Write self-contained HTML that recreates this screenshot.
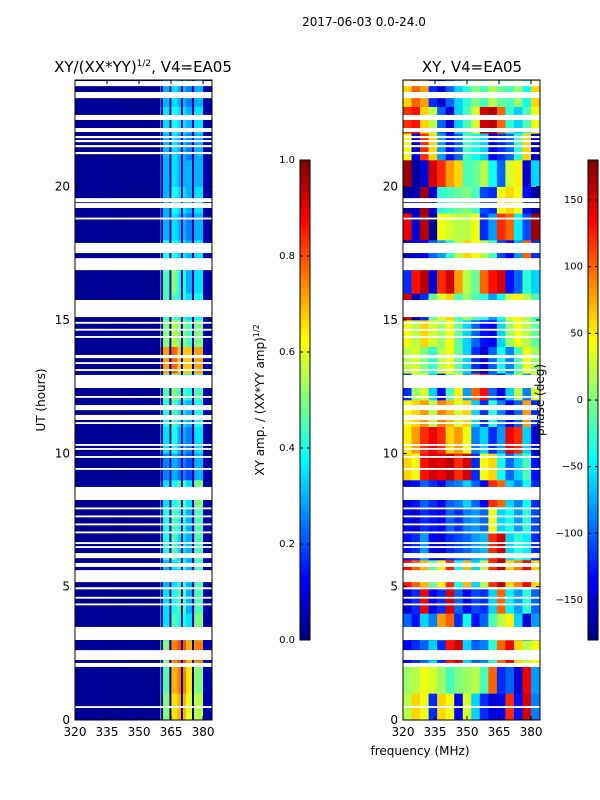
<!DOCTYPE html>
<html><head><meta charset="utf-8"><style>
html,body{margin:0;padding:0;background:#fff;width:600px;height:800px;overflow:hidden}
svg{display:block;font-family:"DejaVu Sans","Liberation Sans",sans-serif}
</style></head><body>
<svg id="fig" width="600" height="800" xmlns="http://www.w3.org/2000/svg">
<text x="364" y="26" font-size="12" text-anchor="middle">2017-06-03 0.0-24.0</text>
<text x="143" y="72" font-size="15" text-anchor="middle">XY/(XX*YY)<tspan font-size="9" dy="-6">1/2</tspan><tspan dy="6">, V4=EA05</tspan></text>
<text x="472" y="72" font-size="15" text-anchor="middle">XY, V4=EA05</text>
<g id="left"></g>
<g id="right"></g>
<g id="cb1"></g>
<g id="cb2"></g>
<text transform="translate(45,400) rotate(-90)" font-size="12" text-anchor="middle">UT (hours)</text>
<text x="420" y="755" font-size="12" text-anchor="middle">frequency (MHz)</text>
<text transform="translate(264,400) rotate(-90)" font-size="12" text-anchor="middle">XY amp. / (XX*YY amp)<tspan font-size="8" dy="-5">1/2</tspan></text>
<text transform="translate(544,400) rotate(-90)" font-size="12" text-anchor="middle">phase (deg)</text>
</svg>
<script>
const freqTicks=[320,335,350,365,380];
const hourTicks=[0,5,10,15,20];
const ampTicks=[0.0,0.2,0.4,0.6,0.8,1.0];
const phaseTicks=[-150,-100,-50,0,50,100,150];
const ampLow=0.02;
const ampBand=[
[0.5,0.65,0.7,0.6,0.55,0.05],[0.45,0.7,0.75,0.65,0.5,0.05],[0.5,0.75,0.8,0.7,0.75,0.05],
[0.35,0.45,0.4,0.35,0.5,0.04],[0.35,0.4,0.45,0.3,0.45,0.04],[0.3,0.35,0.4,0.3,0.45,0.04],
[0.4,0.45,0.35,0.3,0.45,0.04],[0.4,0.45,0.4,0.3,0.45,0.04],[0.35,0.4,0.45,0.35,0.5,0.04],
[0.25,0.3,0.25,0.2,0.3,0.04],[0.35,0.4,0.3,0.25,0.35,0.04],[0.4,0.45,0.35,0.3,0.4,0.04],
[0.45,0.5,0.45,0.4,0.45,0.04],[0.72,0.78,0.68,0.68,0.72,0.05],[0.5,0.55,0.5,0.45,0.5,0.04],
[0.45,0.45,0.4,0.35,0.4,0.04],[0.45,0.5,0.4,0.3,0.35,0.04],[0.4,0.4,0.35,0.3,0.35,0.04],
[0.3,0.35,0.3,0.25,0.3,0.04],[0.3,0.4,0.35,0.3,0.35,0.04],[0.3,0.35,0.3,0.3,0.3,0.04],
[0.3,0.35,0.3,0.25,0.3,0.04],[0.35,0.4,0.35,0.3,0.35,0.04],[0.3,0.35,0.3,0.25,0.3,0.04]];
const phaseRows=[
[20,60,40,-120,60,40,-140,30,-60,-120,-150,-140,120,-130,150,-90],
[10,20,40,30,10,-20,0,10,20,-20,100,-120,-100,-150,140,-80],
[-140,-120,-100,-60,-120,130,150,-60,-100,-90,-30,100,140,60,20,40],
[-100,-130,-60,-90,80,100,-120,-40,-130,-100,-20,20,50,-60,-150,-80],
[-150,-120,140,-140,-120,150,-100,-140,-110,-120,-60,100,-50,-80,-30,-100],
[130,100,70,-10,50,120,-40,70,-60,20,120,160,60,90,140,60],
[-130,-120,-80,-140,-150,-120,-110,-100,-80,-70,120,150,-60,-30,-50,-120],
[-140,-150,-120,-130,-140,-100,-120,-90,-80,-100,40,-60,-40,-80,-30,-110],
[-150,-130,-100,-120,-140,-100,-90,-60,-100,-140,120,100,-60,-90,-40,-120],
[60,40,130,150,140,160,120,150,-120,40,60,-40,-100,-60,-20,-130],
[50,80,120,140,120,60,80,40,-90,-60,-120,-80,140,120,-60,-150],
[40,60,80,20,90,70,30,60,-60,-120,-30,-90,-140,-100,80,-120],
[-120,10,30,-60,-140,-20,50,-80,100,130,-100,-140,-60,20,-90,30],
[20,30,0,-30,20,40,-10,-60,-120,-150,-100,-40,-90,-20,40,10],
[40,20,60,30,10,40,-10,-60,-100,-130,-140,-60,10,40,20,-10],
[150,-160,-120,-10,30,60,-20,10,-20,-30,-80,-40,30,50,20,-20],
[-120,130,160,-150,120,150,80,20,-10,100,130,150,-130,-100,-30,-60],
[-160,-150,-140,-100,-80,-30,20,60,40,20,-20,-110,-140,-80,100,-120],
[140,-150,160,-170,40,30,20,20,40,-120,-80,120,100,-50,-110,170],
[-170,-160,170,-150,-30,-20,-10,0,-20,-110,-120,40,60,40,-130,-170],
[170,-170,-150,150,120,80,60,-20,-10,20,-40,-100,30,50,-150,-60],
[40,-140,120,60,-80,-130,-100,-20,-40,-60,-140,-120,-100,-30,60,-150],
[120,130,60,20,-100,-150,-60,-20,30,150,160,100,-30,-60,-20,40],
[60,100,80,-120,-150,-100,-60,-30,0,-20,20,-10,-20,10,-40,60]];
const flaggedTimes=[[23.77,23.96],[23.32,23.55],[22.5,22.69],[22.05,22.2],[21.82,21.9],[21.67,21.75],[21.48,21.56],[21.22,21.3],
[19.42,19.57],[19.2,19.39],[18.77,18.84],[17.51,17.89],[16.87,17.32],[15.11,15.75],[14.86,14.93],[14.6,14.67],[14.33,14.4],
[13.57,13.69],[13.35,13.42],[13.09,13.16],[12.45,12.94],[12.08,12.15],[11.62,11.81],[11.25,11.44],[11.1,11.17],
[10.28,10.35],[10.13,10.2],[9.83,9.9],[9.38,9.45],[8.25,8.74],[7.9,7.97],[7.6,7.67],[7.3,7.37],[7.0,7.07],
[6.6,6.67],[6.45,6.52],[6.07,6.26],[5.74,5.89],[5.17,5.62],[4.9,4.98],[4.55,4.62],[4.3,4.37],[3.0,3.49],[2.25,2.62],[1.99,2.14],[0.45,0.52]];
const flaggedChannels=[360.8,364.7,370.1,375.3,380.6];
const F0=320,F1=384.2,H0=0,H1=24,chanW=4;
const NS="http://www.w3.org/2000/svg";
function jet(v){v=Math.max(0,Math.min(1,v));const c=t=>Math.round(255*Math.max(0,Math.min(1,1.5-Math.abs(4*v-t))));return `rgb(${c(3)},${c(2)},${c(1)})`;}
function mk(p,tag,a){const e=document.createElementNS(NS,tag);for(const k in a)e.setAttribute(k,a[k]);p.appendChild(e);return e;}
function panel(gid,x0,x1,valFn,nameCell){
  const g=document.getElementById(gid),y0=80,y1=720;
  const xs=f=>x0+(f-F0)/(F1-F0)*(x1-x0), ys=h=>y1-(h-H0)/(H1-H0)*(y1-y0);
  for(let r=0;r<24;r++)for(let c=0;c<16;c++){
    const fa=F0+c*chanW,fb=Math.min(F1,fa+chanW);
    const e=mk(g,'rect',{x:xs(fa),y:ys(r+1),width:xs(fb)-xs(fa)+0.3,height:ys(r)-ys(r+1)+0.3,fill:jet(valFn(r,c))});
    
    
  }
  if(gid==='left')for(const f of flaggedChannels){
    const e=mk(g,'rect',{x:xs(f)-1,y:y0,width:2,height:y1-y0,fill:'#0000a8'});
    
    
  }
  for(const t of flaggedTimes){
    const e=mk(g,'rect',{x:x0,y:ys(t[1]),width:x1-x0,height:ys(t[0])-ys(t[1]),fill:'#fff'});
    
    
  }
  const fr=mk(g,'rect',{x:x0,y:y0,width:x1-x0,height:y1-y0,fill:'none',stroke:'#000','stroke-width':1});
  
  
  for(const f of freqTicks){
    const x=xs(f);
    mk(g,'line',{x1:x,x2:x,y1:y1,y2:y1-4,stroke:'#000'});mk(g,'line',{x1:x,x2:x,y1:y0,y2:y0+4,stroke:'#000'});
    const t=mk(g,'text',{x:x,y:y1+16,'font-size':12,'text-anchor':'middle'});t.textContent=f;
    
    
  }
  for(const h of hourTicks){
    const y=ys(h);
    mk(g,'line',{x1:x0,x2:x0+4,y1:y,y2:y,stroke:'#000'});mk(g,'line',{x1:x1,x2:x1-4,y1:y,y2:y,stroke:'#000'});
    const t=mk(g,'text',{x:x0-5,y:y+4,'font-size':12,'text-anchor':'end'});t.textContent=h;
    
    
  }
}
panel('left',75,212,(r,c)=>c<10?ampLow:ampBand[r][c-10],'amplitude-cell');
panel('right',403,540,(r,c)=>(phaseRows[r][c]+180)/360,'phase-cell');
function colorbar(gid,x0,vmin,vmax,ticks,fmt){
  const g=document.getElementById(gid),y0=160,y1=640,w=10;
  for(let i=0;i<120;i++){mk(g,'rect',{x:x0,y:y1-(i+1)*4,width:w,height:4.3,fill:jet((i+0.5)/120)});}
  mk(g,'rect',{x:x0,y:y0,width:w,height:y1-y0,fill:'none',stroke:'#000'});
  for(const v of ticks){
    const y=y1-(v-vmin)/(vmax-vmin)*(y1-y0);
    mk(g,'line',{x1:x0,x2:x0+3,y1:y,y2:y,stroke:'#000'});mk(g,'line',{x1:x0+w,x2:x0+w-3,y1:y,y2:y,stroke:'#000'});
    const t=mk(g,'text',{x:x0-5,y:y+3,'font-size':10,'text-anchor':'end'});t.textContent=fmt(v);
    
    
  }
}
colorbar('cb1',300,0,1,ampTicks,v=>v.toFixed(1));
colorbar('cb2',588,-180,180,phaseTicks,v=>v<0?'\u2212'+(-v):String(v));
</script>
</body></html>
